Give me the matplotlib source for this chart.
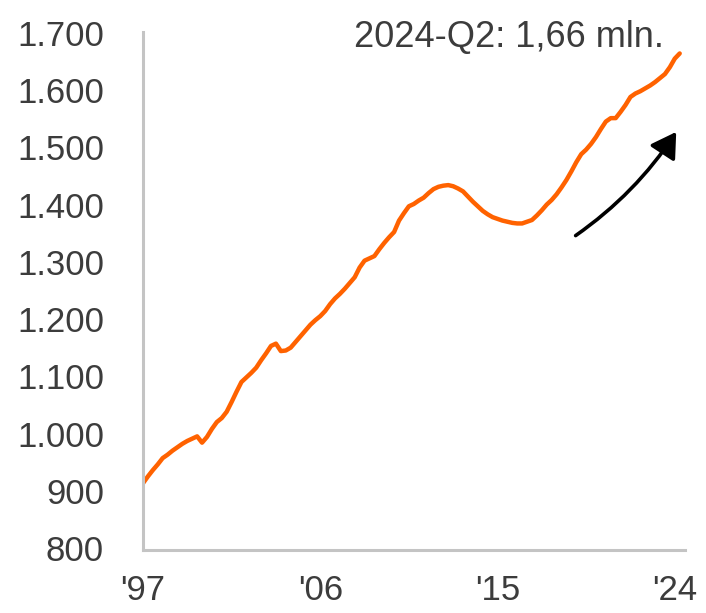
import matplotlib
matplotlib.use("Agg")
import matplotlib.pyplot as plt
from matplotlib.patches import FancyArrowPatch
from matplotlib.ticker import FixedLocator, FuncFormatter

plt.rcParams['font.family'] = ['Liberation Sans', 'DejaVu Sans']

# Quarterly values, 1997-Q1 .. 2024-Q2 (thousands)
years = list(range(1997, 2025))
values = [
    913, 925, 936, 946,      # 1997
    957, 963, 970, 976,      # 1998
    982, 987, 991, 995,      # 1999
    984, 994, 1008, 1020,    # 2000
    1027, 1038, 1055, 1073,  # 2001
    1090, 1098, 1106, 1115,  # 2002
    1128, 1140, 1153, 1157,  # 2003
    1144, 1145, 1150, 1160,  # 2004
    1170, 1180, 1190, 1198,  # 2005
    1205, 1214, 1226, 1236,  # 2006
    1244, 1253, 1263, 1273,  # 2007
    1290, 1302, 1306, 1310,  # 2008
    1322, 1333, 1343, 1352,  # 2009
    1372, 1385, 1397, 1401,  # 2010
    1407, 1412, 1420, 1427,  # 2011
    1431, 1433, 1434, 1432,  # 2012
    1428, 1423, 1414, 1405,  # 2013
    1397, 1389, 1383, 1378,  # 2014
    1375, 1372, 1370, 1368,  # 2015
    1367, 1367, 1370, 1373,  # 2016
    1381, 1390, 1400, 1408,  # 2017
    1418, 1430, 1443, 1458,  # 2018
    1474, 1488, 1496, 1506,  # 2019
    1518, 1532, 1545, 1551,  # 2020
    1551, 1562, 1574, 1588,  # 2021
    1594, 1598, 1603, 1608,  # 2022
    1614, 1621, 1628, 1640,  # 2023
    1655, 1664,              # 2024
]
x_ticks = [1997, 2006, 2015, 2024]
x_tick_labels = ["'97", "'06", "'15", "'24"]
y_ticks = [800, 900, 1000, 1100, 1200, 1300, 1400, 1500, 1600, 1700]
annotation = "2024-Q2: 1,66 mln."

t = [1997 + i / 4 for i in range(len(values))]

fig = plt.figure(figsize=(7.06, 6.13), dpi=100)
ax = fig.add_axes([0.2025, 0.1028, 0.7675, 0.8452])
ax.plot(t, values, color='#FF6200', lw=3.2, solid_capstyle='round',
        solid_joinstyle='round')

ax.set_xlim(1997, 2024.51)
ax.set_ylim(796.5, 1701.7)
ax.yaxis.set_major_locator(FixedLocator(y_ticks))
ax.yaxis.set_major_formatter(FuncFormatter(lambda v, p: f"{int(v):,}".replace(",", ".")))
ax.set_xticks(x_ticks)
ax.set_xticklabels(x_tick_labels)

for s in ['top', 'right']:
    ax.spines[s].set_visible(False)
for s in ['left', 'bottom']:
    ax.spines[s].set_color('#c4c4c4')
    ax.spines[s].set_linewidth(2.2)
ax.tick_params(axis='both', length=0, labelsize=25, colors='#3c3c3c')
ax.tick_params(axis='y', pad=28)
ax.tick_params(axis='x', pad=17)

ax.text(0.961, 0.971, annotation, transform=ax.transAxes, ha='right', va='baseline',
        fontsize=26, color='#3c3c3c')

arrow = FancyArrowPatch((2018.85, 1343), (2024.15, 1531),
                        connectionstyle='arc3,rad=0.1',
                        arrowstyle='-|>,head_length=0.75,head_width=0.45',
                        mutation_scale=20, lw=2.6, color='black')
ax.add_patch(arrow)

fig.savefig('out.png', dpi=100)
